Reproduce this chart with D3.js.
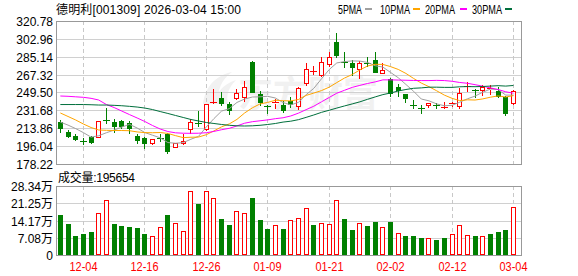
<!DOCTYPE html>
<html>
<head>
<meta charset="utf-8">
<script src="https://cdn.jsdelivr.net/npm/d3@7/dist/d3.min.js"></script>
<style>
  html, body { margin: 0; padding: 0; background: #fff; }
  svg text { font-family: "Liberation Sans", "Noto Sans CJK SC", sans-serif; }
</style>
</head>
<body>
<div id="chart"></div>
<script>
//Datos
const dates = ['12-01','12-02','12-03','12-04','12-05','12-08','12-09','12-10','12-11','12-12',
    '12-15','12-16','12-17','12-18','12-19','12-22','12-23','12-24','12-25','12-26',
    '12-29','12-30','12-31','01-05','01-06','01-07','01-08','01-09','01-12','01-13',
    '01-14','01-15','01-16','01-19','01-20','01-21','01-22','01-23','01-26','01-27',
    '01-28','01-29','01-30','02-02','02-03','02-04','02-05','02-06','02-09','02-10',
    '02-11','02-12','02-13','02-24','02-25','02-26','02-27','03-02','03-03','03-04'];

const open = [220.1,210.1,206.1,201.6,205.4,205.5,221.6,220.4,221.4,218.6,
    206.4,204.4,198.8,203.8,207.8,195.5,198.8,213.1,219.1,212.8,
    239.7,244.3,238.0,243.7,245.3,279.9,248.0,236.0,239.0,237.0,
    241.5,236.0,258.7,270.6,266.5,277.9,299.5,279.9,279.2,272.6,
    279.4,281.9,269.3,262.5,254.5,248.0,237.5,234.5,237.0,237.5,
    235.0,238.0,236.3,255.5,252.0,252.0,253.3,251.0,244.7,239.0];
const high = [222.1,212.1,208.1,204.2,206.1,221.3,233.6,222.6,222.1,220.6,
    208.1,205.6,203.0,208.1,209.1,199.1,208.1,222.6,231.1,238.0,
    253.0,250.0,240.5,253.0,261.0,280.9,251.0,237.0,243.0,241.0,
    245.0,255.0,279.4,275.9,284.4,289.4,309.1,289.9,281.9,280.9,
    284.9,289.4,279.4,263.5,257.5,248.5,242.0,237.0,239.5,239.5,
    240.5,240.5,254.0,260.0,252.5,256.5,256.5,255.0,246.0,251.5];
const low = [210.1,205.1,202.6,198.5,199.4,205.0,218.6,210.6,214.6,209.1,
    199.2,194.2,198.5,201.1,189.5,194.7,198.6,209.6,216.1,212.1,
    239.0,237.3,227.6,243.0,241.0,249.5,237.0,229.4,233.6,229.6,
    235.5,233.0,257.0,267.5,266.0,276.2,284.4,275.2,267.0,263.7,
    276.4,269.9,268.9,246.0,246.0,240.0,233.6,228.6,235.0,234.5,
    234.5,236.0,234.5,250.5,245.5,247.0,248.0,245.5,226.6,238.5];
const close = [214.1,206.1,203.6,201.0,200.4,220.8,221.2,216.6,216.0,214.6,
    202.1,198.8,202.8,203.1,191.2,198.8,201.4,220.1,217.6,237.7,
    240.5,239.3,232.0,248.7,254.5,250.3,240.5,234.7,240.0,232.0,
    238.5,253.5,272.6,271.4,279.6,284.6,286.9,278.9,275.2,278.5,
    278.0,270.4,271.9,248.7,252.0,244.5,236.5,233.5,239.3,236.7,
    235.5,238.7,248.7,256.3,250.5,255.0,254.0,246.0,228.8,250.5];

const volume = [164000,127000,78000,86000,94000,171000,225000,127000,119000,114000,
    110000,86000,77000,114000,164000,131000,99000,262000,209000,262000,
    233000,148000,123000,179000,172000,234000,144000,107000,122000,107000,
    142000,151000,192000,123000,130000,126000,225000,148000,103000,130000,
    119000,136000,114000,136000,89000,78000,78000,70000,69000,62000,
    70000,86000,122000,81000,78000,77000,86000,94000,103000,195654];

const ma5 = [220.0,217.0,213.5,209.5,205.0,206.4,209.4,212.0,215.0,217.8,
    214.1,209.6,206.9,204.3,199.6,198.9,199.5,202.9,205.8,215.1,
    223.5,231.0,233.4,239.6,243.0,245.0,245.2,245.7,244.0,239.5,
    237.1,239.7,247.3,253.6,263.1,272.3,279.0,280.3,281.0,280.8,
    279.5,276.2,274.8,269.5,264.2,257.5,250.7,243.0,241.2,238.1,
    236.3,236.7,239.8,243.2,245.9,249.8,252.9,252.4,246.9,246.9];
const ma10 = [229.1,225.6,222.1,218.1,214.6,212.1,211.8,211.6,211.6,211.4,
    210.2,209.5,209.4,209.6,208.7,206.5,204.5,204.9,205.1,207.4,
    211.2,215.3,218.2,222.7,229.1,234.2,238.1,239.6,241.8,241.3,
    241.1,242.5,246.6,248.9,251.4,254.8,259.4,263.9,267.4,272.0,
    275.9,277.6,277.5,275.3,272.5,268.5,263.5,258.9,255.3,251.2,
    246.9,243.7,241.4,242.2,242.0,243.1,244.8,246.1,245.0,246.4];
const ma20 = [246.0,245.7,245.2,244.7,243.7,242.0,237.5,234.5,231.0,227.5,
    224.1,220.6,216.6,213.1,210.6,209.3,208.9,208.8,208.9,209.4,
    210.7,212.4,213.8,216.2,218.9,220.4,221.3,222.2,223.4,224.3,
    226.1,228.9,232.4,235.8,240.2,244.5,248.8,251.7,254.6,256.6,
    258.5,260.1,262.1,262.1,261.9,261.7,261.5,261.4,261.4,261.6,
    261.4,260.7,259.5,258.7,257.3,255.8,254.1,252.5,250.2,248.8];
const ma30 = [237.5,237.5,237.5,237.5,237.3,237.0,237.0,236.7,236.3,235.7,
    235.0,234.0,232.5,230.5,228.6,226.6,224.6,222.6,221.1,219.6,
    218.6,217.6,216.8,216.3,216.1,216.3,216.8,217.6,218.6,220.0,
    220.9,222.4,224.7,227.1,229.7,231.8,234.0,236.1,238.1,240.2,
    242.7,245.1,247.4,249.0,251.0,252.5,253.7,254.1,254.8,254.8,
    254.6,254.6,255.2,255.4,255.3,255.5,255.9,256.3,255.9,256.5];

//Ejes
const priceTicks = [320.78, 302.96, 285.14, 267.32, 249.50, 231.68, 213.86, 196.04, 178.22];
const volTicks = [0, 70850, 141700, 212550, 283400];
const volTickLabels = ['0', '7.08万', '14.17万', '21.25万', '28.34万'];
const dateTicks = ['12-04', '12-16', '12-26', '01-09', '01-21', '02-02', '02-12', '03-04'];

const maSeries = [
    {name: '5PMA', values: ma5, color: '#a0a0a0', lx: 338, lw: 24, mx: 365},
    {name: '10PMA', values: ma10, color: '#ffa500', lx: 380, lw: 30, mx: 413},
    {name: '20PMA', values: ma20, color: '#ff00ff', lx: 425, lw: 30, mx: 460},
    {name: '30PMA', values: ma30, color: '#006f3c', lx: 472, lw: 30, mx: 505}
];

//Colores fijos
const COLOR_UP = '#ff0000',
COLOR_DOWN = '#008000',
COLOR_GRID = '#d0d0d0',
COLOR_FRAME = '#999999';

const W = 578, H = 276;
const left = 56, right = 522;
const mainTop = 21, mainBottom = 164;
const volTop = 186, volBottom = 255;

let svg = d3.select('#chart')
    .append('svg')
        .attr('width', W)
        .attr('height', H)
        .style('display', 'block');

svg.append('rect').attr('width', W).attr('height', H).attr('fill', '#fff');

let x = d3.scaleBand()
    .domain(dates)
    .range([left, left + dates.length * 7.68]);

function cx(d) { return Math.round(x(d) + x.bandwidth() / 2); }

let y = d3.scaleLinear()
    .domain([priceTicks[priceTicks.length - 1], priceTicks[0]])
    .range([mainBottom, mainTop]);

let yVol = d3.scaleLinear()
    .domain([0, volTicks[volTicks.length - 1]])
    .range([volBottom, volTop]);

/// MARCA DE AGUA
let wm = svg.append('g').attr('fill', '#f1f1f1');
wm.append('path')
    .attr('d', 'M203,104 C205,88 214,76 232,72 C221,80 217,90 219,104 Z M214,104 C216,93 223,84 236,80 C228,88 226,96 228,104 Z');
wm.append('text')
    .attr('x', 238).attr('y', 107)
    .attr('font-family', 'Noto Sans CJK SC')
    .attr('font-size', 36)
    .attr('font-weight', 'bold')
    .attr('textLength', 140)
    .attr('lengthAdjust', 'spacingAndGlyphs')
    .text('东方财富');

/// REJILLA
let grid = svg.append('g').attr('shape-rendering', 'crispEdges');

grid.selectAll('.hgrid')
    .data(priceTicks.slice(1, -1))
    .enter()
    .append('line')
    .attr('x1', left).attr('x2', right)
    .attr('y1', function(d) { return Math.round(y(d)) + 0.5; })
    .attr('y2', function(d) { return Math.round(y(d)) + 0.5; })
    .attr('stroke', COLOR_GRID);

grid.selectAll('.vgrid-h')
    .data(volTicks.slice(1, -1))
    .enter()
    .append('line')
    .attr('x1', left).attr('x2', right)
    .attr('y1', function(d) { return Math.round(yVol(d)) + 0.5; })
    .attr('y2', function(d) { return Math.round(yVol(d)) + 0.5; })
    .attr('stroke', COLOR_GRID);

[[mainTop, mainBottom], [volTop, volBottom]].forEach(function(r) {
    grid.selectAll(null)
        .data(dateTicks)
        .enter()
        .append('line')
        .attr('x1', function(d) { return cx(d) + 0.5; })
        .attr('x2', function(d) { return cx(d) + 0.5; })
        .attr('y1', r[0]).attr('y2', r[1])
        .attr('stroke', '#c8c8c8')
        .attr('stroke-dasharray', '4,3');
});

/// VELAS
let candles = svg.append('g').attr('shape-rendering', 'crispEdges');

dates.forEach(function(d, i) {
    let c = cx(d);
    let up = close[i] >= open[i];
    let color = up ? COLOR_UP : COLOR_DOWN;
    let yTop = Math.round(y(Math.max(open[i], close[i]))),
        yBot = Math.round(y(Math.min(open[i], close[i]))),
        yHi = Math.round(y(high[i])),
        yLo = Math.round(y(low[i]));

    if (up) {
        if (yHi < yTop) candles.append('line').attr('x1', c + 0.5).attr('x2', c + 0.5).attr('y1', yHi).attr('y2', yTop).attr('stroke', color);
        if (yLo > yBot) candles.append('line').attr('x1', c + 0.5).attr('x2', c + 0.5).attr('y1', yBot + 1).attr('y2', yLo + 1).attr('stroke', color);
    } else {
        candles.append('line').attr('x1', c + 0.5).attr('x2', c + 0.5).attr('y1', yHi).attr('y2', yLo + 1).attr('stroke', color);
    }

    if (yBot - yTop < 2) {
        candles.append('line')
            .attr('x1', c - 3).attr('x2', c + 4)
            .attr('y1', yTop + 0.5).attr('y2', yTop + 0.5)
            .attr('stroke', color);
    } else if (up) {
        candles.append('rect')
            .attr('x', c - 1.5).attr('y', yTop + 0.5)
            .attr('width', 4).attr('height', yBot - yTop)
            .attr('fill', '#fff').attr('stroke', color);
    } else {
        candles.append('rect')
            .attr('x', c - 2).attr('y', yTop)
            .attr('width', 5).attr('height', yBot - yTop + 1)
            .attr('fill', color);
    }
});

/// MEDIAS MÓVILES
let line = d3.line()
    .x(function(d, i) { return x(dates[i]) + x.bandwidth() / 2 + 0.5; })
    .y(function(d) { return y(d); });

maSeries.forEach(function(s) {
    svg.append('path')
        .datum(s.values)
        .attr('d', line)
        .attr('fill', 'none')
        .attr('stroke', s.color)
        .attr('stroke-width', 1);
});

/// VOLUMEN
let vol = svg.append('g').attr('shape-rendering', 'crispEdges');

dates.forEach(function(d, i) {
    let c = cx(d);
    let up = i === 0 ? close[i] >= open[i] : close[i] >= close[i - 1];
    let yv = Math.round(yVol(volume[i]));
    if (up) {
        vol.append('rect')
            .attr('x', c - 1.5).attr('y', yv + 0.5)
            .attr('width', 4).attr('height', volBottom - yv - 1)
            .attr('fill', '#fff').attr('stroke', COLOR_UP);
    } else {
        vol.append('rect')
            .attr('x', c - 2).attr('y', yv)
            .attr('width', 5).attr('height', volBottom - yv)
            .attr('fill', COLOR_DOWN);
    }
});

/// MARCOS
let frames = svg.append('g').attr('shape-rendering', 'crispEdges').attr('fill', 'none').attr('stroke', COLOR_FRAME);
frames.append('rect').attr('x', left + 0.5).attr('y', mainTop + 0.5).attr('width', right - left - 1).attr('height', mainBottom - mainTop);
frames.append('rect').attr('x', left + 0.5).attr('y', volTop + 0.5).attr('width', right - left - 1).attr('height', volBottom - volTop);

/// TEXTOS DE EJES
svg.append('g')
    .selectAll('text')
    .data(priceTicks)
    .enter()
    .append('text')
    .attr('x', 53)
    .attr('y', function(d) { return Math.round(y(d)) + 4.5; })
    .attr('text-anchor', 'end')
    .attr('font-size', 12)
    .attr('fill', '#000')
    .text(function(d) { return d.toFixed(2); });

svg.append('g')
    .selectAll('text')
    .data(volTicks)
    .enter()
    .append('text')
    .attr('x', 53)
    .attr('y', function(d) { return Math.round(yVol(d)) + 4.5; })
    .attr('text-anchor', 'end')
    .attr('font-size', 12)
    .attr('fill', '#000')
    .text(function(d, i) { return volTickLabels[i]; });

svg.append('g')
    .selectAll('text')
    .data(dateTicks)
    .enter()
    .append('text')
    .attr('x', function(d) { return cx(d) + 0.5; })
    .attr('y', 270.5)
    .attr('text-anchor', 'middle')
    .attr('font-size', 12)
    .attr('textLength', 28)
    .attr('lengthAdjust', 'spacingAndGlyphs')
    .attr('fill', COLOR_UP)
    .text(function(d) { return d; });

/// TÍTULO Y LEYENDA
svg.append('text')
    .attr('x', 56).attr('y', 14)
    .attr('font-size', 12)
    .attr('textLength', 185)
    .attr('lengthAdjust', 'spacing')
    .text('德明利[001309] 2026-03-04 15:00');

maSeries.forEach(function(s) {
    svg.append('text')
        .attr('x', s.lx).attr('y', 14)
        .attr('font-size', 12)
        .attr('textLength', s.lw)
        .attr('lengthAdjust', 'spacingAndGlyphs')
        .text(s.name);
    svg.append('rect')
        .attr('x', s.mx).attr('y', 8)
        .attr('width', 7).attr('height', 2)
        .attr('fill', s.color);
});

svg.append('text')
    .attr('x', 58).attr('y', 182)
    .attr('font-size', 12)
    .attr('textLength', 77)
    .attr('lengthAdjust', 'spacing')
    .text('成交量:' + volume[volume.length - 1]);
</script>
</body>
</html>
